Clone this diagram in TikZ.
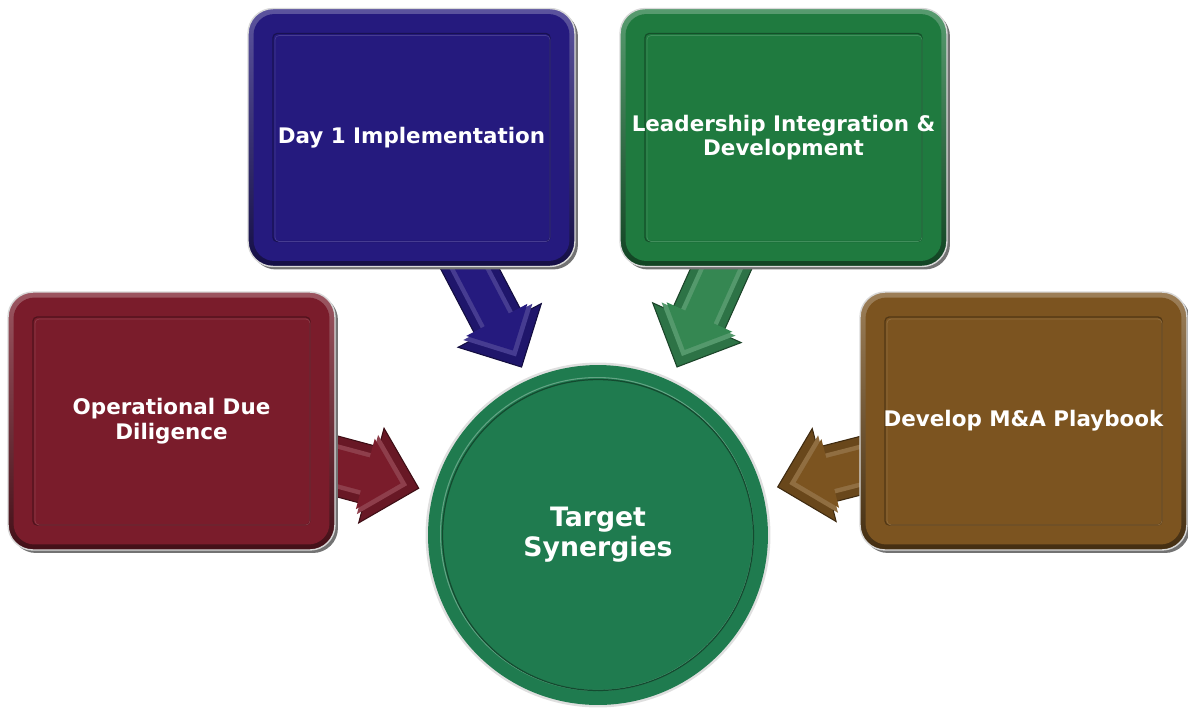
\documentclass[tikz,border=0pt]{standalone}
\usepackage{fontspec}
\setmainfont{DejaVu Sans}
\usetikzlibrary{shapes.arrows,calc}
\definecolor{cred}{HTML}{7A1C2B}
\definecolor{cblue}{HTML}{251A7E}
\definecolor{cgreen}{HTML}{1F7A3F}
\definecolor{cbrown}{HTML}{7C5420}
\definecolor{ccirc}{HTML}{1F7B4F}
\tikzset{
  boxshadow/.style={rectangle, rounded corners=0.5cm, minimum width=6.54cm, minimum height=5.16cm, inner sep=0pt, fill=black!55},
  boxrim/.style={rectangle, rounded corners=0.5cm, minimum width=6.54cm, minimum height=5.16cm, inner sep=0pt, draw=gray!30, line width=0.8pt},
  boxface/.style={rectangle, rounded corners=0.42cm, minimum width=6.32cm, minimum height=4.94cm, inner sep=0pt},
  boxinner/.style={rectangle, rounded corners=0.08cm, minimum width=5.54cm, minimum height=4.16cm, inner sep=0pt, line width=0.7pt},
  boxtext/.style={text=white, font=\fontsize{12.2}{14}\selectfont\bfseries, align=center},
  bigarrow/.style={single arrow, inner xsep=0pt, line width=0.6pt},
}
\newcommand\bevelbox[4]{%
  \node[boxshadow] (#1-s) at ($(#2)+(3,3)$) {};
  \node[boxrim, top color=#3!75!white, bottom color=#3!55!black] (#1) at (#2) {};
  \node[boxface, fill=#3] (#1-f) at (#2) {};
  \node[boxinner, draw=#3!65!black] (#1-i) at (#2) {};
  \node[boxinner, draw=#3!85!white, minimum width=5.50cm, minimum height=4.12cm, line width=0.4pt] (#1-j) at ($(#2)+(1,1)$) {};
  \node[boxtext] (#1-t) at (#2) {#4};
}
% name, mid, angle, length(cm), head(cm), shaft(cm), colour
\newcommand\bigarr[7]{%
  \node[bigarrow, fill=#7!85!black, draw=#7!50!black, rotate=#3, minimum height=#4cm, minimum width=#5cm, inner ysep=#6cm/2, single arrow head extend={(#5cm-#6cm)/2}] (#1) at (#2) {};
  \node[bigarrow, fill=#7!85!white, draw=none, rotate=#3, minimum height=#4cm-0.32cm, minimum width=#5cm-0.32cm, inner ysep=#6cm/2-0.16cm, single arrow head extend={(#5cm-#6cm)/2}] (#1-h) at (#2) {};
  \node[bigarrow, fill=#7, draw=none, rotate=#3, minimum height=#4cm-0.5cm, minimum width=#5cm-0.5cm, inner ysep=#6cm/2-0.25cm, single arrow head extend={(#5cm-#6cm)/2}] (#1-c) at (#2) {};
}
\begin{document}
\begin{tikzpicture}[x=0.02cm, y=-0.02cm]
\useasboundingbox (0,0) rectangle (1188,708);
% arrows
\coordinate (m1) at (346.5,468.9);
\coordinate (m2) at (485.3,298);
\coordinate (m3) at (709.4,294.9);
\coordinate (m4) at (849.6,468.5);
\bigarr{a1}{m1}{-15}{2.4}{1.94}{1.16}{cred}
\bigarr{a2}{m2}{-62.3}{2.6}{1.86}{1.02}{cblue}
\bigarr{a3}{m3}{-114.2}{2.6}{1.92}{1.10}{cgreen!90!white}
\bigarr{a4}{m4}{194.4}{2.4}{1.90}{1.12}{cbrown}
% boxes
\coordinate (pr) at (171.5,421);
\coordinate (pb) at (411.5,137.5);
\coordinate (pg) at (783.5,137.5);
\coordinate (pw) at (1023.5,421);
\bevelbox{red}{pr}{cred}{Operational Due\\Diligence}
\bevelbox{blue}{pb}{cblue}{Day 1 Implementation}
\bevelbox{green}{pg}{cgreen}{Leadership Integration \&\\Development}
\bevelbox{brown}{pw}{cbrown}{Develop M\&A Playbook}
% circle
\coordinate (pc) at (598,535);
\node[circle, minimum size=6.90cm, inner sep=0pt, fill=gray!25] (c-r) at (pc) {};
\node[circle, minimum size=6.80cm, inner sep=0pt, fill=ccirc] (c) at (pc) {};
\node[circle, minimum size=6.26cm, inner sep=0pt, draw=ccirc!70!white, line width=0.6pt] (c-l) at ($(pc)+(-1,-1)$) {};
\node[circle, minimum size=6.22cm, inner sep=0pt, draw=ccirc!60!black, line width=0.7pt] (c-i) at (pc) {};
\node[text=white, font=\fontsize{15.2}{17.2}\selectfont\bfseries, align=center] (c-t) at (pc) {Target\\Synergies};
\end{tikzpicture}
\end{document}
